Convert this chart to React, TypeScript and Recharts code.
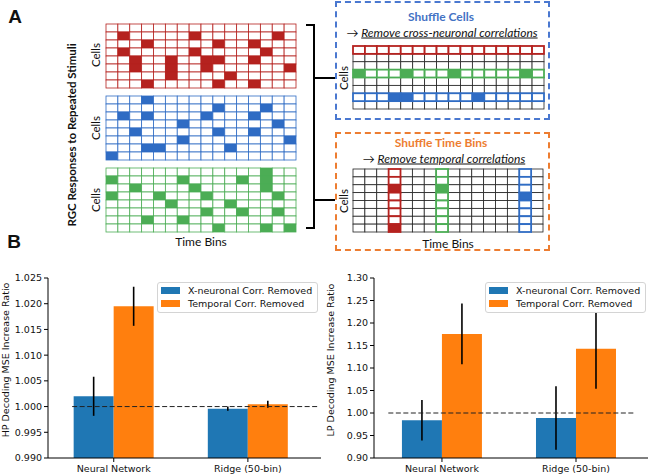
import React from 'react';
import {
    Bar,
    BarChart,
    ErrorBar,
    Legend,
    ReferenceLine,
    Scatter,
    ScatterChart,
    XAxis,
    YAxis,
} from 'recharts';

// ---- panel B data ----
const groups = ['Neural Network', 'Ridge (50-bin)'];
const seriesNames = ['X-neuronal Corr. Removed', 'Temporal Corr. Removed'];

const hpXneuronal = [1.002, 0.9996];
const hpXneuronalErr = [0.0038, 0.0004];
const hpTemporal = [1.0195, 1.00045];
const hpTemporalErr = [0.0038, 0.0007];
const hpTicks = [0.99, 0.995, 1.0, 1.005, 1.01, 1.015, 1.02, 1.025];

const lpXneuronal = [0.9837, 0.9889];
const lpXneuronalErr = [0.045, 0.0703];
const lpTemporal = [1.1756, 1.143];
const lpTemporalErr = [0.0675, 0.089];
const lpTicks = [0.9, 0.95, 1.0, 1.05, 1.1, 1.15, 1.2, 1.25, 1.3];

// ---- panel A data: filled time bins for each cell (row) ----
const redRaster = [[], [1, 7, 14], [3, 9, 12], [1, 7, 13], [2, 5, 8, 9, 12], [2, 5, 8, 15], [5, 10], [3, 9, 12]];
const blueRaster = [[3], [9, 13], [1, 3, 8, 12], [6, 14], [2, 9, 12], [6, 15], [3, 4, 10], [0]];
const greenRaster = [[13], [0, 6, 11, 13], [2, 7, 13], [0, 4, 8, 14], [5, 10], [8, 11, 14], [3, 6], [9, 13, 15]];

// shuffled examples: which row / column is highlighted, and its filled bins
const shuffledCellRows = [0, 3, 6];
const shuffledCellFills = [[], [0, 4, 8, 14], [3, 4, 10]];
const shuffledBinCols = [3, 7, 14];
const shuffledBinFills = [[2, 7], [2], [3]];

const N_BINS = 16;
const N_CELLS = 8;

const RED = '#b5221f';
const BLUE = '#2f6cc4';
const GREEN = '#4cad55';
const HILITE = [RED, GREEN, BLUE];
const C_BLUE = '#1f77b4';
const C_ORANGE = '#ff7f0e';
const MPL_FONT = '"DejaVu Sans", sans-serif';
const A_FONT = 'Lato, "Open Sans", sans-serif';

interface Cell {
    x: number;
    y: number;
    on: boolean;
    color: string | null;
}

function rasterCells(raster: number[][]): Cell[] {
    const cells: Cell[] = [];
    for (let r = 0; r < N_CELLS; r++) {
        for (let c = 0; c < N_BINS; c++) {
            cells.push({ x: c + 0.5, y: r + 0.5, on: raster[r].includes(c), color: null });
        }
    }
    return cells;
}

function shuffledCells(byRow: boolean, idx: number[], fills: number[][]): Cell[] {
    const plain: Cell[] = [];
    const hl: Cell[] = [];
    for (let r = 0; r < N_CELLS; r++) {
        for (let c = 0; c < N_BINS; c++) {
            const k = idx.indexOf(byRow ? r : c);
            if (k < 0) {
                plain.push({ x: c + 0.5, y: r + 0.5, on: false, color: null });
            } else {
                hl.push({ x: c + 0.5, y: r + 0.5, on: fills[k].includes(byRow ? c : r), color: HILITE[k] });
            }
        }
    }
    return [...plain, ...hl];
}

function Raster({ cells, left, top, width, height, color }: {
    cells: Cell[]; left: number; top: number; width: number; height: number; color?: string;
}) {
    const cw = width / N_BINS;
    const ch = height / N_CELLS;
    const shape = (p: any) => {
        const { cx, cy, payload } = p;
        const x = cx - cw / 2;
        const y = cy - ch / 2;
        if (color) {
            return <rect x={x} y={y} width={cw} height={ch} fill={payload.on ? color : '#fff'} stroke={color} strokeWidth={0.8} />;
        }
        if (payload.color) {
            return <rect x={x} y={y} width={cw} height={ch} fill={payload.on ? payload.color : '#fff'} stroke={payload.color} strokeWidth={1.8} />;
        }
        return <rect x={x} y={y} width={cw} height={ch} fill="#fff" stroke="#222" strokeWidth={0.8} />;
    };
    return (
        <div style={{ position: 'absolute', left: left - 2, top: top - 2 }}>
            <ScatterChart width={width + 4} height={height + 4} margin={{ top: 2, right: 2, bottom: 2, left: 2 }}>
                <XAxis type="number" dataKey="x" domain={[0, N_BINS]} hide />
                <YAxis type="number" dataKey="y" domain={[0, N_CELLS]} reversed hide />
                <Scatter data={cells} shape={shape} isAnimationActive={false} />
            </ScatterChart>
        </div>
    );
}

const text = (
    s: React.ReactNode, cx: number, cy: number, style: React.CSSProperties = {}, rotate = false,
) => (
    <div
        style={{
            position: 'absolute',
            left: cx,
            top: cy,
            transform: `translate(-50%, -50%)${rotate ? ' rotate(-90deg)' : ''}`,
            whiteSpace: 'nowrap',
            fontFamily: A_FONT,
            fontSize: 11.5,
            color: '#111',
            ...style,
        }}
    >
        {s}
    </div>
);

const line = (left: number, top: number, width: number, height: number) => (
    <div style={{ position: 'absolute', left, top, width, height, background: '#000' }} />
);

function PanelA() {
    return (
        <>
            {text('A', 15, 17, { fontFamily: '"Liberation Sans", Arial, sans-serif', fontWeight: 700, fontSize: 19 })}
            {text('RGC Responses to Repeated Stimuli', 71, 135, { fontWeight: 700, fontSize: 11.5 }, true)}
            {text('Cells', 95, 55, {}, true)}
            {text('Cells', 95, 128, {}, true)}
            {text('Cells', 95, 200, {}, true)}
            {text('Time Bins', 201, 241, { fontSize: 12 })}

            <Raster cells={rasterCells(redRaster)} left={106} top={24} width={190} height={64} color={RED} />
            <Raster cells={rasterCells(blueRaster)} left={106} top={96} width={190} height={64} color={BLUE} />
            <Raster cells={rasterCells(greenRaster)} left={106} top={168} width={190} height={64} color={GREEN} />

            {/* bracket */}
            {line(306, 24, 9, 2)}
            {line(313, 24, 2, 205)}
            {line(306, 227, 9, 2)}
            {line(313, 77, 22, 2)}
            {line(313, 199, 22, 2)}

            {/* shuffle cells box */}
            <div style={{ position: 'absolute', left: 335, top: 1, width: 215, height: 119, border: '2px dashed #4a78d0', boxSizing: 'border-box' }} />
            {text('Shuffle Cells', 441, 16, { color: '#4472c4', fontWeight: 700, fontSize: 12 })}
            {text(
                <span>
                    → <span style={{ textDecoration: 'underline' }}>Remove cross-neuronal correlations</span>
                </span>,
                442, 32, { fontStyle: 'italic', fontSize: 12 },
            )}
            {text('Cells', 343, 78, {}, true)}
            <Raster cells={shuffledCells(true, shuffledCellRows, shuffledCellFills)} left={353} top={46} width={191} height={63} />

            {/* shuffle time bins box */}
            <div style={{ position: 'absolute', left: 335, top: 132, width: 215, height: 119, border: '2px dashed #ed7d31', boxSizing: 'border-box' }} />
            {text('Shuffle Time Bins', 441, 142, { color: '#ed7d31', fontWeight: 700, fontSize: 12 })}
            {text(
                <span>
                    → <span style={{ textDecoration: 'underline' }}>Remove temporal correlations</span>
                </span>,
                444, 158, { fontStyle: 'italic', fontSize: 12 },
            )}
            {text('Cells', 343, 201, {}, true)}
            <Raster cells={shuffledCells(false, shuffledBinCols, shuffledBinFills)} left={353} top={169} width={190} height={63} />
            {text('Time Bins', 448, 243, { fontSize: 12 })}

            {text('B', 14, 242, { fontFamily: '"Liberation Sans", Arial, sans-serif', fontWeight: 700, fontSize: 19 })}
        </>
    );
}

const renderLegend = (props: any) => {
    const items = [...(props.payload ?? [])].sort(
        (a: any, b: any) => seriesNames.indexOf(a.value) - seriesNames.indexOf(b.value),
    );
    return (
        <div
            style={{
                border: '1px solid #d4d4d4',
                borderRadius: 3,
                background: '#fff',
                padding: '1px 5px 2px 3px',
                fontFamily: MPL_FONT,
                fontSize: 9.5,
                lineHeight: '13px',
                color: '#111',
            }}
        >
            {items.map((item: any) => (
                <div key={item.value} style={{ display: 'flex', alignItems: 'center' }}>
                    <span style={{ display: 'inline-block', width: 19, height: 7, background: item.color, marginRight: 8 }} />
                    {item.value}
                </div>
            ))}
        </div>
    );
};

interface DecodingChartProps {
    left: number;
    width: number;
    marginLeft: number;
    marginRight: number;
    yLabel: string;
    yDomain: [number, number];
    yTicks: number[];
    digits: number;
    xDomain: [number, number];
    dash: [number, number];
    xneuronal: number[];
    xneuronalErr: number[];
    temporal: number[];
    temporalErr: number[];
    legendLeft: number;
}

function DecodingChart(p: DecodingChartProps) {
    const data = groups.map((g, i) => ({
        x: i,
        name: g,
        xn: p.xneuronal[i],
        xnErr: p.xneuronalErr[i],
        t: p.temporal[i],
        tErr: p.temporalErr[i],
    }));
    const tick = { fill: '#111', fontSize: 9.5, fontFamily: MPL_FONT };
    const yLabel = (props: any) => {
        const vb = props.viewBox;
        const x = 5;
        const y = vb.y + vb.height / 2 - 8;
        return (
            <text x={x} y={y} transform={`rotate(-90 ${x} ${y})`} textAnchor="middle" dominantBaseline="central"
                fontSize={9.5} fontFamily={MPL_FONT} fill="#111">
                {p.yLabel}
            </text>
        );
    };
    return (
        <div style={{ position: 'absolute', left: p.left, top: 230 }}>
            <BarChart
                width={p.width}
                height={245}
                data={data}
                barGap={0}
                margin={{ top: 48, right: p.marginRight, bottom: 2, left: p.marginLeft }}
            >
                <XAxis
                    type="number"
                    dataKey="x"
                    domain={p.xDomain}
                    allowDataOverflow
                    ticks={[0, 1]}
                    interval={0}
                    tickFormatter={(v: number) => groups[v]}
                    tick={tick}
                    tickSize={4}
                    tickMargin={3}
                    height={15}
                    stroke="#000"
                />
                <XAxis xAxisId="top" orientation="top" type="number" domain={p.xDomain} allowDataOverflow
                    tick={false} tickLine={false} height={0} stroke="#000" />
                <YAxis
                    type="number"
                    domain={p.yDomain}
                    allowDataOverflow
                    ticks={p.yTicks}
                    interval={0}
                    tickFormatter={(v: number) => v.toFixed(p.digits)}
                    tick={tick}
                    tickSize={4}
                    tickMargin={2}
                    width={40}
                    stroke="#000"
                    label={yLabel}
                />
                <YAxis yAxisId="right" orientation="right" type="number" domain={p.yDomain} allowDataOverflow
                    tick={false} tickLine={false} width={0} stroke="#000" />
                <Bar dataKey="xn" name={seriesNames[0]} fill={C_BLUE} barSize={40} isAnimationActive={false}>
                    <ErrorBar dataKey="xnErr" width={0} stroke="#000" strokeWidth={1.6} isAnimationActive={false} />
                </Bar>
                <Bar dataKey="t" name={seriesNames[1]} fill={C_ORANGE} barSize={40} isAnimationActive={false}>
                    <ErrorBar dataKey="tErr" width={0} stroke="#000" strokeWidth={1.6} isAnimationActive={false} />
                </Bar>
                <ReferenceLine
                    segment={[{ x: p.dash[0], y: 1 }, { x: p.dash[1], y: 1 }]}
                    stroke="#222"
                    strokeDasharray="5 2.5"
                    strokeWidth={1}
                />
                <Legend
                    layout="vertical"
                    align="center"
                    verticalAlign="middle"
                    content={renderLegend}
                    wrapperStyle={{ left: p.legendLeft, top: 52, width: 'auto' }}
                />
            </BarChart>
        </div>
    );
}

export default function App() {
    return (
        <div style={{ position: 'absolute', left: 0, top: 0, width: 650, height: 475, background: '#fff', overflow: 'hidden' }}>
            <PanelA />
            <DecodingChart
                left={0}
                width={330}
                marginLeft={8}
                marginRight={9}
                yLabel="HP Decoding MSE Increase Ratio"
                yDomain={[0.99, 1.025]}
                yTicks={hpTicks}
                digits={3}
                xDomain={[-0.49, 1.545]}
                dash={[-0.31, 1.52]}
                xneuronal={hpXneuronal}
                xneuronalErr={hpXneuronalErr}
                temporal={hpTemporal}
                temporalErr={hpTemporalErr}
                legendLeft={157}
            />
            <DecodingChart
                left={325}
                width={325}
                marginLeft={9}
                marginRight={2}
                yLabel="LP Decoding MSE Increase Ratio"
                yDomain={[0.9, 1.3]}
                yTicks={lpTicks}
                digits={2}
                xDomain={[-0.507, 1.537]}
                dash={[-0.4, 1.44]}
                xneuronal={lpXneuronal}
                xneuronalErr={lpXneuronalErr}
                temporal={lpTemporal}
                temporalErr={lpTemporalErr}
                legendLeft={160}
            />
        </div>
    );
}
